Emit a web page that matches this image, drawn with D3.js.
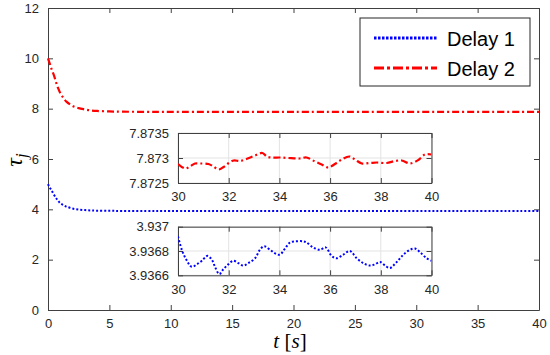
<!DOCTYPE html>
<html lang="en">
<head>
	<meta charset="UTF-8">
	<title>Delays</title>
	<script src="https://cdn.jsdelivr.net/npm/d3@7"></script>
	<style>
		html,body{margin:0;padding:0;background:#fff;}
		svg{display:block;}
		.tick text{font-family:"Liberation Sans",Arial,sans-serif;font-size:13px;fill:#262626;}
	</style>
</head>
<body>
	<svg id="chart" width="550" height="355"></svg>
	<script>
		// main curves
		var mainT  = [0, 0.15, 0.27, 0.5, 0.68, 0.82, 1, 1.25, 1.5, 2, 2.5, 3, 3.5, 4, 5, 6, 8, 10, 20, 40];
		var delay1 = [5, 4.86, 4.77, 4.57, 4.43, 4.35, 4.24, 4.17, 4.11, 4.03, 3.99, 3.97, 3.955, 3.947, 3.94, 3.938, 3.937, 3.937, 3.937, 3.937];
		var delay2 = [10, 9.78, 9.6, 9.3, 9.01, 8.82, 8.62, 8.43, 8.28, 8.11, 8.02, 7.97, 7.93, 7.91, 7.89, 7.88, 7.875, 7.873, 7.873, 7.873];

		// inset, delay 2 (30..40 s)
		var inset2T = [30, 30.28, 30.47, 30.67, 30.87, 31.2, 31.4, 31.6, 31.8, 32.0, 32.2, 32.45, 32.7, 33.04, 33.33, 33.5, 33.7, 34.03, 34.35, 34.79, 35.07, 35.4, 35.67, 35.93, 36.19, 36.46, 36.76, 36.98, 37.25, 37.57, 37.84, 38.23, 38.56, 38.83, 39.15, 39.48, 39.74, 40];
		var inset2V = [7.87288, 7.87279, 7.87283, 7.87289, 7.87289, 7.87288, 7.87283, 7.87277, 7.87282, 7.8729, 7.87295, 7.87294, 7.87298, 7.87305, 7.8731, 7.87303, 7.87301, 7.87301, 7.873, 7.87299, 7.87301, 7.87293, 7.87287, 7.87281, 7.87288, 7.87297, 7.87303, 7.87297, 7.87289, 7.8729, 7.87291, 7.8729, 7.87294, 7.87295, 7.87289, 7.87296, 7.87307, 7.87307];

		// inset, delay 1 (30..40 s)
		var inset1T = [30, 30.15, 30.35, 30.54, 30.74, 30.94, 31.16, 31.33, 31.46, 31.63, 31.79, 31.98, 32.18, 32.38, 32.58, 32.77, 33.04, 33.23, 33.4, 33.63, 33.83, 34.02, 34.22, 34.42, 34.68, 34.94, 35.07, 35.33, 35.6, 35.82, 36.06, 36.25, 36.52, 36.78, 37.05, 37.31, 37.57, 37.77, 37.97, 38.17, 38.36, 38.63, 38.89, 39.15, 39.35, 39.55, 39.81, 40];
		var inset1V = [3.93692, 3.93681, 3.93672, 3.93667, 3.93669, 3.93672, 3.93676, 3.93673, 3.93667, 3.93661, 3.93665, 3.93669, 3.93672, 3.9367, 3.93668, 3.9367, 3.93674, 3.93681, 3.93684, 3.93681, 3.93678, 3.93677, 3.93682, 3.93687, 3.93688, 3.93688, 3.93687, 3.93683, 3.93681, 3.93683, 3.93676, 3.93674, 3.93677, 3.9368, 3.93674, 3.9367, 3.93668, 3.93669, 3.93671, 3.93668, 3.93666, 3.93671, 3.93677, 3.93681, 3.93682, 3.93679, 3.93674, 3.93672];

		var xTicks = [0, 5, 10, 15, 20, 25, 30, 35, 40];
		var yTicks = [0, 2, 4, 6, 8, 10, 12];
		var insetXTicks = [30, 32, 34, 36, 38, 40];
		var inset2Ticks = [7.8725, 7.873, 7.8735];
		var inset1Ticks = [3.9366, 3.9368, 3.937];
		var legendNames = ["Delay 1", "Delay 2"];

		var svg = d3.select("#chart");
		var axisCol = "#404040";
		var dot = {stroke:"#0000ff", width:2, dash:"2,2"};
		var dashdot = {stroke:"#ff0000", width:2.2, dash:"7,3,2,3"};

		function drawAxes(g, x, y, xt, yt, fmtY, grid, id){
			var x0 = x.range()[0], x1 = x.range()[1];
			var y0 = y.range()[0], y1 = y.range()[1];
			g.append("rect").attr("x", x0).attr("y", y1).attr("width", x1 - x0).attr("height", y0 - y1)
				.attr("fill", "#fff");
			if(grid){
				g.selectAll(".gx").data(xt).enter().append("line")
					.attr("x1", d => x(d)).attr("x2", d => x(d)).attr("y1", y0).attr("y2", y1)
					.attr("stroke", "#e3e3e3").attr("stroke-width", 1);
				g.selectAll(".gy").data(yt).enter().append("line")
					.attr("x1", x0).attr("x2", x1).attr("y1", d => y(d)).attr("y2", d => y(d))
					.attr("stroke", "#e3e3e3").attr("stroke-width", 1);
			}
			var bottom = g.append("g").attr("transform", "translate(0," + y0 + ")")
				.call(d3.axisBottom(x).tickValues(xt).tickSizeInner(-5).tickSizeOuter(0).tickPadding(9));
			var top = g.append("g").attr("transform", "translate(0," + y1 + ")")
				.call(d3.axisTop(x).tickValues(xt).tickSizeInner(-5).tickSizeOuter(0).tickFormat(""));
			var left = g.append("g").attr("transform", "translate(" + x0 + ",0)")
				.call(d3.axisLeft(y).tickValues(yt).tickSizeInner(-5).tickSizeOuter(0).tickPadding(9).tickFormat(fmtY));
			var right = g.append("g").attr("transform", "translate(" + x1 + ",0)")
				.call(d3.axisRight(y).tickValues(yt).tickSizeInner(-5).tickSizeOuter(0).tickFormat(""));
			[bottom, top, left, right].forEach(function(a){
				a.select(".domain").attr("stroke", axisCol);
				a.selectAll(".tick line").attr("stroke", axisCol);
			});
			[top, right].forEach(function(a){ a.selectAll(".tick text").remove(); });
			svg.append("clipPath").attr("id", id).append("rect")
				.attr("x", x0).attr("y", y1).attr("width", x1 - x0).attr("height", y0 - y1);
		}

		function drawLine(g, x, y, ts, vs, st, clip){
			var pts = ts.map((t, i) => [t, vs[i]]);
			var line = d3.line().x(d => x(d[0])).y(d => y(d[1])).curve(d3.curveCatmullRom.alpha(0.5));
			var p = g.append("path").datum(pts).attr("d", line)
				.attr("fill", "none").attr("stroke", st.stroke).attr("stroke-width", st.width)
				.attr("stroke-dasharray", st.dash);
			if(clip) p.attr("clip-path", "url(#" + clip + ")");
		}

		// main axes
		var x = d3.scaleLinear().domain([0, 40]).range([48, 539]);
		var y = d3.scaleLinear().domain([0, 12]).range([310, 8]);
		var gm = svg.append("g");
		drawAxes(gm, x, y, xTicks, yTicks, d3.format("d"), false, "clipMain");
		drawLine(gm, x, y, mainT, delay1, dot, null);
		drawLine(gm, x, y, mainT, delay2, dashdot, null);

		// inset for delay 2
		var xi = d3.scaleLinear().domain([30, 40]).range([178, 431.5]);
		var yi2 = d3.scaleLinear().domain([7.8725, 7.8735]).range([183, 133]);
		var g2 = svg.append("g");
		drawAxes(g2, xi, yi2, insetXTicks, inset2Ticks, d => d3.format(".4~f")(d), true, "clipI2");
		drawLine(g2, xi, yi2, inset2T, inset2V, dashdot, "clipI2");

		// inset for delay 1
		var yi1 = d3.scaleLinear().domain([3.9366, 3.937]).range([275.3, 226.7]);
		var g1 = svg.append("g");
		drawAxes(g1, xi, yi1, insetXTicks, inset1Ticks, d => d3.format(".4~f")(d), true, "clipI1");
		drawLine(g1, xi, yi1, inset1T, inset1V, dot, "clipI1");

		// axis labels
		var xl = svg.append("text").attr("x", 290).attr("y", 348).attr("text-anchor", "middle")
			.style("font-family", "'Liberation Serif','DejaVu Serif',serif").style("font-size", "21px").attr("fill", "#000");
		xl.append("tspan").style("font-style", "italic").text("t");
		xl.append("tspan").text(" [");
		xl.append("tspan").style("font-style", "italic").text("s");
		xl.append("tspan").text("]");

		var yl = svg.append("text").attr("transform", "translate(22,160) rotate(-90)").attr("text-anchor", "middle")
			.style("font-family", "'Liberation Serif','DejaVu Serif',serif").style("font-size", "24px")
			.style("font-style", "italic").attr("fill", "#000");
		yl.append("tspan").text("τ");
		yl.append("tspan").attr("dy", 5).style("font-size", "17px").text("j");

		// legend
		var lg = svg.append("g");
		lg.append("rect").attr("x", 360).attr("y", 18).attr("width", 170).attr("height", 68)
			.attr("fill", "#fff").attr("stroke", "#262626").attr("stroke-width", 1);
		var legStyles = [{stroke:"#0000ff", width:3, dash:"2.5,1.5"}, {stroke:"#ff0000", width:3, dash:"10,3,3,3"}];
		legendNames.forEach(function(n, i){
			var yy = 38 + i * 30;
			lg.append("line").attr("x1", 374).attr("x2", 437).attr("y1", yy).attr("y2", yy)
				.attr("stroke", legStyles[i].stroke).attr("stroke-width", legStyles[i].width)
				.attr("stroke-dasharray", legStyles[i].dash);
			lg.append("text").attr("x", 447).attr("y", yy + 7.5).text(n)
				.style("font-family", "'Liberation Sans',Arial,sans-serif").style("font-size", "20px").attr("fill", "#000");
		});
	</script>
</body>
</html>
